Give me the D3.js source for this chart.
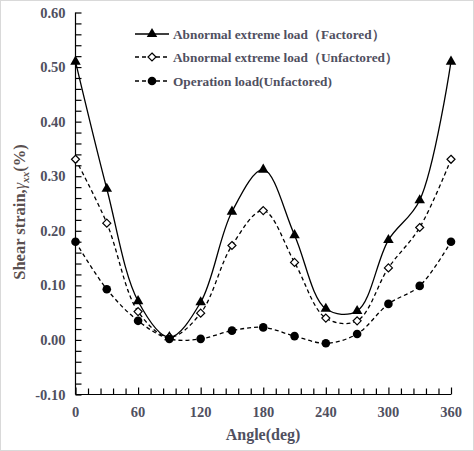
<!DOCTYPE html>
<html><head><meta charset="utf-8">
<script src="https://cdn.jsdelivr.net/npm/d3@7"></script>
<style>body{margin:0;background:#fff}svg{display:block}</style>
</head><body><svg id="c" width="474" height="451"></svg>
<script>
const angles = [0,30,60,90,120,150,180,210,240,270,300,330,360];
const factored = [0.510,0.277,0.071,0.005,0.069,0.235,0.312,0.192,0.057,0.053,0.183,0.256,0.510];
const unfactored = [0.331,0.214,0.052,0.005,0.049,0.173,0.237,0.142,0.040,0.035,0.132,0.206,0.331];
const operation = [0.180,0.093,0.035,0.002,0.002,0.017,0.023,0.007,-0.006,0.011,0.066,0.099,0.180];
const seriesNames = ["Abnormal extreme load（Factored）","Abnormal extreme load（Unfactored）","Operation load(Unfactored)"];
const xTicks = [0,60,120,180,240,300,360];
const yTicks = [-0.10,0.00,0.10,0.20,0.30,0.40,0.50,0.60];

const svg = d3.select("#c");
const txt = "#50505f";
svg.append("rect").attr("x",0.5).attr("y",0.5).attr("width",473).attr("height",450)
  .attr("fill","#fff").attr("stroke","#d9d9d9");

const x = d3.scaleLinear().domain([0,360]).range([75.5,451]);
const y = d3.scaleLinear().domain([-0.1,0.6]).range([394.5,12.5]);

// axes
const gx = svg.append("g").attr("transform",`translate(0,${y(-0.1)})`);
gx.call(d3.axisBottom(x).tickValues(d3.range(0,361,12)).tickSize(-6).tickFormat(""));
gx.call(g=>g.selectAll(".tick line").attr("stroke","#000"));
gx.select(".domain").attr("stroke","#000").attr("d",`M${x(0)},0H${x(360)}`);
gx.selectAll(".tick").filter(d=>d%60===0).select("line").attr("y2",-7);

const gy = svg.append("g").attr("transform",`translate(${x(0)},0)`);
gy.call(d3.axisLeft(y).tickValues(d3.range(-0.1,0.601,0.02)).tickSize(-6).tickFormat(""));
gy.selectAll(".tick line").attr("stroke","#000");
gy.select(".domain").attr("stroke","#000").attr("d",`M0,${y(-0.1)}V${y(0.6)}`);

svg.selectAll(".tick line").attr("stroke-width",1.2);
svg.selectAll(".domain").attr("stroke-width",1.2);

// tick labels
const font = "'Liberation Serif','Times New Roman',serif";
svg.append("g").selectAll("text").data(yTicks).join("text")
  .attr("x",x(0)-10).attr("y",d=>y(d)+5).attr("text-anchor","end")
  .attr("font-family",font).attr("font-weight","bold").attr("font-size",14.5).attr("fill",txt)
  .text(d=>d.toFixed(2));
svg.append("g").selectAll("text").data(xTicks).join("text")
  .attr("x",d=>x(d)).attr("y",417).attr("text-anchor","middle")
  .attr("font-family",font).attr("font-weight","bold").attr("font-size",14.5).attr("fill",txt)
  .text(d=>d);

svg.append("text").attr("x",263).attr("y",440).attr("text-anchor","middle")
  .attr("font-family",font).attr("font-weight","bold").attr("font-size",16).attr("fill",txt)
  .text("Angle(deg)");

const yt = svg.append("text").attr("transform",`translate(25,212) rotate(-90)`).attr("text-anchor","middle")
  .attr("font-family",font).attr("font-weight","bold").attr("font-size",16.5).attr("fill","#5a5050");
yt.append("tspan").text("Shear strain,");
yt.append("tspan").attr("font-style","italic").attr("font-weight","normal").text("γ");
yt.append("tspan").attr("font-size",11).attr("dy",4).attr("font-style","italic").text("xx");
yt.append("tspan").attr("dy",-4).text("(%)");

// lines
const data = [factored,unfactored,operation];
const dashes = [null,"4,3","4,3"];
const line = d3.line().x((d,i)=>x(angles[i])).y(d=>y(d)).curve(d3.curveCatmullRom.alpha(0.5));
data.forEach((s,k)=>{
  svg.append("path").attr("d",line(s)).attr("fill","none").attr("stroke","#000")
    .attr("stroke-width",1.3).attr("stroke-dasharray",dashes[k]);
});

function marker(g,k,cx,cy){
  if(k===0){
    g.append("path").attr("d",d3.symbol(d3.symbolTriangle,48)()).attr("transform",`translate(${cx},${cy})`).attr("fill","#000");
  } else if(k===1){
    g.append("path").attr("d",`M0,-4L4,0L0,4L-4,0Z`).attr("transform",`translate(${cx},${cy})`)
      .attr("fill","#fff").attr("stroke","#000").attr("stroke-width",1.2);
  } else {
    g.append("circle").attr("cx",cx).attr("cy",cy).attr("r",4.3).attr("fill","#000");
  }
}
const mg = svg.append("g");
data.forEach((s,k)=>s.forEach((v,i)=>marker(mg,k,x(angles[i]),y(v))));

// legend
const legY = [34,57,81];
seriesNames.forEach((n,k)=>{
  svg.append("line").attr("x1",135).attr("x2",169).attr("y1",legY[k]).attr("y2",legY[k])
    .attr("stroke","#000").attr("stroke-width",1.3).attr("stroke-dasharray",dashes[k]);
  marker(svg,k,152,legY[k]);
  svg.append("text").attr("x",173).attr("y",legY[k]+4.5)
    .attr("font-family",font).attr("font-weight","bold").attr("font-size",13.3).attr("fill",txt).text(n);
});
</script></body></html>
